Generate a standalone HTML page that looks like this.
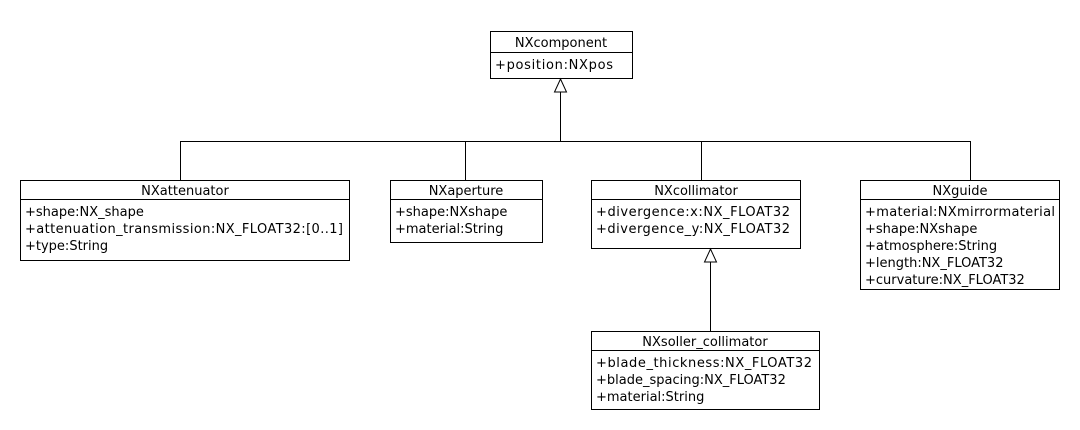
<!DOCTYPE html>
<html><head><style>body{margin:0;background:#fff}svg{display:block}text{font-family:"DejaVu Sans","Liberation Sans",sans-serif;font-size:13px;fill:#000}</style></head>
<body>
<svg width="1080" height="430" viewBox="0 0 1080 430" xmlns="http://www.w3.org/2000/svg">
<g fill="none" stroke="#000" stroke-width="1" shape-rendering="crispEdges">
<rect x="490.5" y="31.5" width="142" height="47"/><line x1="490" y1="52.5" x2="632" y2="52.5"/>
<rect x="20.5" y="180.5" width="329" height="80"/><line x1="20" y1="199.5" x2="349" y2="199.5"/>
<rect x="390.5" y="180.5" width="152" height="62"/><line x1="390" y1="199.5" x2="542" y2="199.5"/>
<rect x="591.5" y="180.5" width="209" height="68"/><line x1="591" y1="199.5" x2="800" y2="199.5"/>
<rect x="860.5" y="180.5" width="199" height="109"/><line x1="860" y1="199.5" x2="1059" y2="199.5"/>
<rect x="591.5" y="331.5" width="228" height="78"/><line x1="591" y1="350.5" x2="819" y2="350.5"/>
<line x1="560.5" y1="92" x2="560.5" y2="141"/>
<line x1="180" y1="141.5" x2="971" y2="141.5"/>
<line x1="180.5" y1="141" x2="180.5" y2="180"/>
<line x1="465.5" y1="141" x2="465.5" y2="180"/>
<line x1="701.5" y1="141" x2="701.5" y2="180"/>
<line x1="970.5" y1="141" x2="970.5" y2="180"/>
<line x1="710.5" y1="262" x2="710.5" y2="331"/>
</g>
<polygon points="560.5,79 554.5,92 566.5,92" fill="#fff" stroke="#000"/>
<polygon points="710.5,249 704.5,262 716.5,262" fill="#fff" stroke="#000"/>
<text x="561" y="47" text-anchor="middle">NXcomponent</text>
<text x="495" y="69" textLength="118">+position:NXpos</text>
<text x="185" y="195" text-anchor="middle">NXattenuator</text>
<text x="25" y="216">+shape:NX_shape</text>
<text x="25" y="233" textLength="318">+attenuation_transmission:NX_FLOAT32:[0..1]</text>
<text x="25" y="250">+type:String</text>
<text x="466" y="195" text-anchor="middle">NXaperture</text>
<text x="395" y="216">+shape:NXshape</text>
<text x="395" y="233">+material:String</text>
<text x="696" y="195" text-anchor="middle">NXcollimator</text>
<text x="596" y="216" textLength="194">+divergence:x:NX_FLOAT32</text>
<text x="596" y="233" textLength="194">+divergence_y:NX_FLOAT32</text>
<text x="960" y="195" text-anchor="middle">NXguide</text>
<text x="865" y="216" textLength="190">+material:NXmirrormaterial</text>
<text x="865" y="233">+shape:NXshape</text>
<text x="865" y="250">+atmosphere:String</text>
<text x="865" y="267">+length:NX_FLOAT32</text>
<text x="865" y="284">+curvature:NX_FLOAT32</text>
<text x="705" y="346" text-anchor="middle">NXsoller_collimator</text>
<text x="596" y="367" textLength="216">+blade_thickness:NX_FLOAT32</text>
<text x="596" y="384">+blade_spacing:NX_FLOAT32</text>
<text x="596" y="401">+material:String</text>
</svg>
</body></html>
